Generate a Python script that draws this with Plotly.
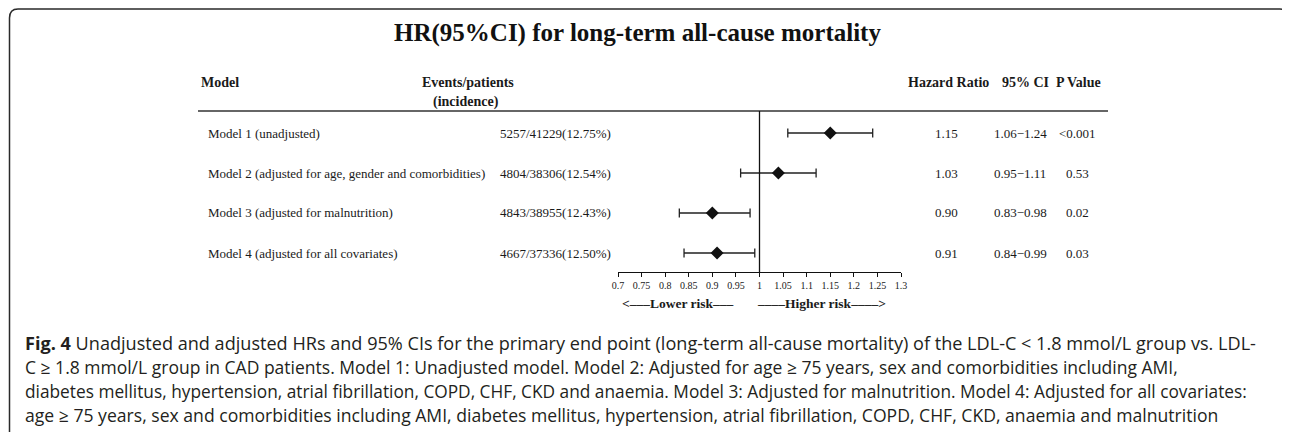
import plotly.graph_objects as go

# ---------------- data ----------------
models = [
    "Model 1 (unadjusted)",
    "Model 2 (adjusted for age, gender and comorbidities)",
    "Model 3 (adjusted for malnutrition)",
    "Model 4 (adjusted for all covariates)",
]
events = ["5257/41229(12.75%)", "4804/38306(12.54%)", "4843/38955(12.43%)", "4667/37336(12.50%)"]
hr_plot = [1.15, 1.04, 0.90, 0.91]
ci_low = [1.06, 0.96, 0.83, 0.84]
ci_high = [1.24, 1.12, 0.98, 0.99]
hr_text = ["1.15", "1.03", "0.90", "0.91"]
ci_text = ["1.06\u22121.24", "0.95\u22121.11", "0.83\u22120.98", "0.84\u22120.99"]
p_text = ["<0.001", "0.53", "0.02", "0.03"]
tick_vals = [0.7, 0.75, 0.8, 0.85, 0.9, 0.95, 1.0, 1.05, 1.1, 1.15, 1.2, 1.25, 1.3]
tick_text = ["0.7", "0.75", "0.8", "0.85", "0.9", "0.95", "1", "1.05", "1.1", "1.15", "1.2", "1.25", "1.3"]
caption_lines = [
    "<b>Fig. 4</b> Unadjusted and adjusted HRs and 95% CIs for the primary end point (long-term all-cause mortality) of the LDL-C < 1.8 mmol/L group vs. LDL-",
    "C ≥ 1.8 mmol/L group in CAD patients. Model 1: Unadjusted model. Model 2: Adjusted for age ≥ 75 years, sex and comorbidities including AMI,",
    "diabetes mellitus, hypertension, atrial fibrillation, COPD, CHF, CKD and anaemia. Model 3: Adjusted for malnutrition. Model 4: Adjusted for all covariates:",
    "age ≥ 75 years, sex and comorbidities including AMI, diabetes mellitus, hypertension, atrial fibrillation, COPD, CHF, CKD, anaemia and malnutrition",
]
title = "HR(95%CI) for long-term all-cause mortality"

# ---------------- layout geometry (page pixels) ----------------
PAGE_W, PAGE_H = 1290, 432
OFF = 8                      # default body margin of the html page
W, H = PAGE_W - OFF, PAGE_H - OFF
L, R, T, B = 618, 901, 111, 272   # plot area in page pixels
SERIF = "Liberation Serif, Times New Roman, serif"
SANS = "Open Sans, Noto Sans, sans-serif"


def px(x):
    return (x - L) / (R - L)


def py(y):
    return (B - y) / (B - T)


n = len(models)
ypos = [n - i for i in range(n)]

fig = go.Figure()
fig.add_trace(go.Scatter(
    x=hr_plot, y=ypos, mode="markers",
    marker=dict(symbol="diamond", size=10, color="#111111"),
    error_x=dict(type="data", symmetric=False,
                 array=[h - m for h, m in zip(ci_high, hr_plot)],
                 arrayminus=[m - l for m, l in zip(hr_plot, ci_low)],
                 color="#222222", thickness=1.3, width=4.5),
    showlegend=False, hoverinfo="skip",
))

ann = []


def text(x, y, s, size=13, anchor="left", bold=False, font=SERIF, color="#1a1a1a"):
    ann.append(dict(xref="paper", yref="paper", x=px(x), y=py(y), text=(f"<b>{s}</b>" if bold else s),
                    showarrow=False, xanchor=anchor, yanchor="middle",
                    font=dict(family=font, size=size, color=color)))


# title & headers
text(637, 33, title, size=25, anchor="center", bold=True, color="#111111")
text(199, 82, "Model", size=14, bold=True)
text(468, 82, "Events/patients", size=14, anchor="center", bold=True)
text(466, 102, "(incidence)", size=14, anchor="center", bold=True)
text(948, 82, "Hazard Ratio", size=14, anchor="center", bold=True)
text(1025, 82, "95% CI", size=14, anchor="center", bold=True)
text(1078, 82, "P Value", size=14, anchor="center", bold=True)

row_y = [133, 173, 212, 253]
for i in range(n):
    text(206, row_y[i], models[i])
    text(498, row_y[i], events[i])
    text(946, row_y[i], hr_text[i], anchor="center")
    text(1020, row_y[i], ci_text[i], anchor="center")
    text(1077, row_y[i], p_text[i], anchor="center")

text(736, 303, "<\u2013\u2013\u2013Lower risk\u2013\u2013\u2013", size=13.5, anchor="right", bold=True)
text(755, 303, "\u2013\u2013\u2013\u2013Higher risk\u2013\u2013\u2013\u2013>", size=13.5, anchor="left", bold=True)

cap_y = [343, 367, 391, 415]
cap_size = [18.1, 17.5, 17.3, 17.6]
for s, yy, fs in zip(caption_lines, cap_y, cap_size):
    text(23, yy, s, size=fs, font=SANS, color="#231f20")

fig.update_layout(annotations=ann)

shapes = [
    # header rule
    dict(type="line", xref="paper", yref="paper", x0=px(198), x1=px(1108), y0=py(111), y1=py(111),
         line=dict(color="#333333", width=1.5)),
    # reference line at HR = 1
    dict(type="line", xref="x", yref="paper", x0=1, x1=1, y0=0, y1=1,
         line=dict(color="#111111", width=1.3)),
    # rounded frame
    dict(type="path", xref="paper", yref="paper",
         path=(f"M {px(9.5)},{py(450)} L {px(9.5)},{py(18)} Q {px(9.5)},{py(9)} {px(18)},{py(9)} "
               f"L {px(1280)},{py(9)} Q {px(1288.5)},{py(9)} {px(1288.5)},{py(18)} L {px(1288.5)},{py(450)}"),
         line=dict(color="#2a2a2a", width=1.5)),
]
fig.update_layout(shapes=shapes)

fig.update_xaxes(range=[0.7, 1.3], tickvals=tick_vals, ticktext=tick_text,
                 showline=True, linecolor="#111111", linewidth=1.2,
                 ticks="outside", ticklen=4, tickwidth=1, tickcolor="#111111",
                 tickfont=dict(family=SERIF, size=10, color="#1a1a1a"),
                 showgrid=False, zeroline=False, fixedrange=True)
fig.update_yaxes(range=[0.525, 4.55], visible=False, showgrid=False, zeroline=False, fixedrange=True)

fig.update_layout(
    width=W, height=H,
    margin=dict(l=L - OFF, r=PAGE_W - R, t=T - OFF, b=PAGE_H - B, pad=0),
    paper_bgcolor="white", plot_bgcolor="white",
    showlegend=False,
)

fig.write_html("out.html", config={"displayModeBar": False})
